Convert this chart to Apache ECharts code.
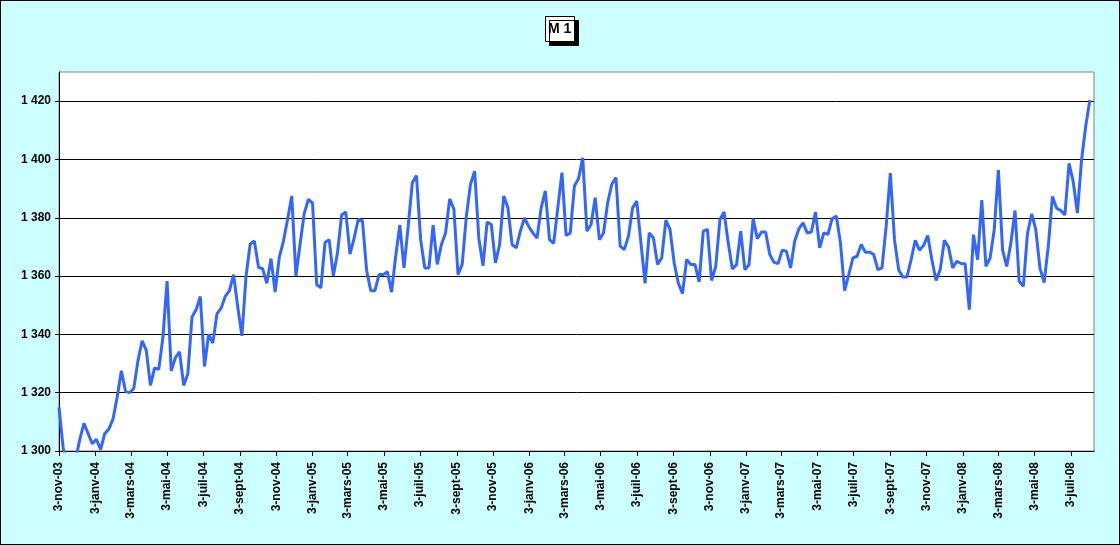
<!DOCTYPE html>
<html>
<head>
<meta charset="utf-8">
<script src="https://cdn.jsdelivr.net/npm/echarts@6/dist/echarts.min.js"></script>
<style>
  html, body { margin: 0; padding: 0; }
  #frame {
    width: 1120px; height: 545px; box-sizing: border-box;
    border: 1px solid #000; background: #ccffff;
  }
  #chart { width: 1118px; height: 543px; }
</style>
</head>
<body>
<div id="frame"><div id="chart"></div></div>
<script>
// weekly M1 readings, first one on 3 Nov 2003
const startDate = [2003, 11, 3];
const m1Values = [
  1315, 1301, 1296, 1294, 1297, 1304, 1309.5, 1306, 1302.5, 1304,
  1300.5, 1306, 1307.5, 1311, 1318.5, 1327.5, 1320.5, 1320, 1321.5, 1331,
  1337.8, 1334.5, 1322.5, 1328.5, 1328, 1339, 1358.3, 1327.5, 1332, 1334,
  1322.5, 1326.5, 1346, 1348.5, 1353, 1329, 1340, 1337, 1347, 1349,
  1353, 1355, 1360.5, 1349.5, 1339.5, 1360, 1371, 1372, 1363, 1362.5,
  1357.5, 1366, 1354.5, 1366.5, 1372, 1379.5, 1387.5, 1360, 1371, 1381.5,
  1386.3, 1385, 1357, 1356, 1371.5, 1372.5, 1360, 1368, 1381, 1382,
  1367.5, 1373, 1379.5, 1379, 1362, 1355, 1355, 1360.5, 1360.5, 1361.5,
  1354.5, 1366.8, 1377.5, 1362.8, 1377, 1392, 1394.5, 1372.5, 1362.8, 1362.8,
  1377.5, 1364, 1370.8, 1374.8, 1386.5, 1383, 1360.5, 1364, 1380.5, 1391.5,
  1396, 1373, 1363.5, 1378.5, 1377.7, 1364.5, 1370.8, 1387.5, 1383.4, 1370.8,
  1369.7, 1375.4, 1380, 1377, 1374.8, 1373, 1383.4, 1389.2, 1372.5, 1371.2,
  1383.4, 1395.5, 1373.9, 1374.8, 1390.9, 1393.5, 1400.6, 1375.4, 1377.7, 1386.9,
  1372.5, 1374.8, 1385.2, 1391.5, 1393.8, 1370.3, 1369.1, 1373.7, 1383.4, 1385.7,
  1371.4, 1357.5, 1374.8, 1373.1, 1364, 1366.2, 1379.2, 1376, 1364.5, 1357.6,
  1354, 1365.7, 1364, 1364, 1358, 1375.4, 1376, 1358.5, 1363.3, 1379.4,
  1382, 1371.4, 1362.4, 1363.9, 1375.4, 1362.2, 1363.9, 1379.7, 1372.8, 1375.1,
  1375.1, 1367.4, 1364.7, 1364.3, 1368.9, 1368.5, 1362.8, 1372, 1376.2, 1378.3,
  1374.8, 1375.1, 1382, 1369.7, 1374.8, 1374.3, 1379.7, 1380.6, 1371.4, 1355,
  1360.5, 1366.2, 1366.8, 1370.8, 1368.2, 1368.2, 1367.4, 1362.2, 1362.8, 1377.1,
  1395.3, 1372.5, 1362.2, 1359.7, 1359.7, 1365.6, 1372.3, 1368.9, 1370.5, 1373.9,
  1365.6, 1358.5, 1362.2, 1372.3, 1370, 1362.8, 1365.1, 1364.3, 1364.2, 1348.5,
  1374.2, 1365.6, 1386.1, 1363.3, 1366.2, 1375.9, 1396.4, 1369, 1363.3, 1371.3,
  1382.5, 1358.2, 1356.5, 1374.7, 1381.3, 1375.9, 1362.7, 1357.8, 1370.2, 1387.3,
  1383.3, 1382.5, 1381, 1398.7, 1392.4, 1381.6, 1399.8, 1411.3, 1420.4
];

// x axis labels (one every two months, on the 3rd)
const xTickLabels = [
  "3-nov-03", "3-janv-04", "3-mars-04", "3-mai-04", "3-juil-04", "3-sept-04",
  "3-nov-04", "3-janv-05", "3-mars-05", "3-mai-05", "3-juil-05", "3-sept-05",
  "3-nov-05", "3-janv-06", "3-mars-06", "3-mai-06", "3-juil-06", "3-sept-06",
  "3-nov-06", "3-janv-07", "3-mars-07", "3-mai-07", "3-juil-07", "3-sept-07",
  "3-nov-07", "3-janv-08", "3-mars-08", "3-mai-08", "3-juil-08"
];
const yTicks = [1300, 1320, 1340, 1360, 1380, 1400, 1420];

const monthIndex = { janv: 0, "févr": 1, mars: 2, avr: 3, mai: 4, juin: 5,
  juil: 6, "août": 7, sept: 8, oct: 9, nov: 10, "déc": 11 };

// x is a plain value axis counted in days since 3 nov 2003
const DAY = 24 * 3600 * 1000;
const t0 = Date.UTC(startDate[0], startDate[1] - 1, startDate[2]);

function labelToDay(label) {
  const [d, m, y] = label.split("-");
  return Math.round((Date.UTC(2000 + Number(y), monthIndex[m], Number(d)) - t0) / DAY);
}

const seriesData = m1Values.map((v, i) => [i * 7, v]);

const xTickDays = xTickLabels.map(labelToDay);
const labelByDay = new Map(xTickDays.map((d, i) => [d, xTickLabels[i]]));
const xMaxDay = Math.round((Date.UTC(2008, 7, 11) - t0) / DAY);

const axisFont = { color: "#000", fontFamily: "Arial, 'Liberation Sans', sans-serif", fontWeight: "bold", fontSize: 12 };

const chart = echarts.init(document.getElementById("chart"));
chart.setOption({
  animation: false,
  title: {
    text: "M 1",
    left: 544,
    top: 15,
    padding: [6, 3, 5, 3],
    backgroundColor: "#fff",
    borderColor: "#000",
    borderWidth: 1,
    shadowColor: "#000",
    shadowBlur: 0,
    shadowOffsetX: 4,
    shadowOffsetY: 4,
    textStyle: Object.assign({}, axisFont, { fontSize: 14, lineHeight: 15 })
  },
  grid: {
    left: 58, right: 25, top: 71, bottom: 93,
    show: true, backgroundColor: "#fff", borderColor: "#808080", borderWidth: 1
  },
  xAxis: {
    type: "value",
    min: 0,
    max: xMaxDay,
    axisLine: { onZero: false, lineStyle: { color: "#000", width: 1 } },
    axisTick: { show: true, length: 5, customValues: xTickDays, lineStyle: { color: "#000" } },
    axisLabel: Object.assign({}, axisFont, {
      rotate: 90,
      margin: 11,
      customValues: xTickDays,
      formatter: (v) => labelByDay.get(v) || ""
    }),
    splitLine: { show: false }
  },
  yAxis: {
    type: "value",
    min: 1300,
    max: 1430,
    interval: 20,
    axisLine: { show: true, lineStyle: { color: "#000", width: 1 } },
    axisTick: { show: true, length: 4, customValues: yTicks, lineStyle: { color: "#000" } },
    axisLabel: Object.assign({}, axisFont, {
      margin: 8,
      customValues: yTicks,
      formatter: (v) => String(v).replace(/\B(?=(\d{3})+(?!\d))/g, " ")
    }),
    splitLine: {
      show: true,
      lineStyle: { color: ["#000", "#000", "#000", "#000", "#000", "#000", "#000", "#808080"], width: 1 }
    }
  },
  series: [{
    type: "line",
    data: seriesData,
    showSymbol: false,
    symbol: "none",
    clip: true,
    lineStyle: { color: "#3366ff", width: 3 }
  }]
});
</script>
</body>
</html>
